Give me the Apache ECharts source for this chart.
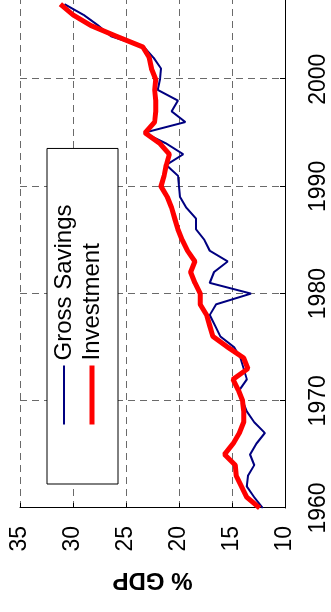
<!DOCTYPE html>
<html>
<head>
<meta charset="utf-8">
<script src="https://cdn.jsdelivr.net/npm/echarts@6/dist/echarts.min.js"></script>
<style>
  html, body { margin: 0; padding: 0; background: #fff; width: 331px; height: 612px; overflow: hidden; }
  #chart { position: absolute; left: 0; top: 0; width: 612px; height: 331px;
           transform-origin: 0 0; transform: translateY(612px) rotate(-90deg); }
</style>
</head>
<body>
<div id="chart"></div>
<script>
const years = [1960,1961,1962,1963,1964,1965,1966,1967,1968,1969,
               1970,1971,1972,1973,1974,1975,1976,1977,1978,1979,
               1980,1981,1982,1983,1984,1985,1986,1987,1988,1989,
               1990,1991,1992,1993,1994,1995,1996,1997,1998,1999,
               2000,2001,2002,2003,2004,2005,2006,2007];
const grossSavings = [12.1,12.9,13.6,13.5,12.9,13.3,12.7,11.9,12.9,13.6,
                      14.0,14.3,13.6,13.9,14.2,14.8,16.1,16.6,17.1,16.5,
                      13.2,17.1,16.7,15.4,17.1,17.6,18.4,18.4,19.3,19.9,
                      20.0,20.1,21.2,19.6,21.2,23.3,19.4,20.7,20.1,22.0,
                      21.8,21.7,22.4,23.3,26.4,27.6,29.0,30.8];
const investment = [12.4,13.6,14.1,14.6,14.7,15.7,14.9,14.3,13.9,13.9,
                    14.0,14.4,14.9,13.5,13.9,15.4,16.8,17.1,17.4,18.0,
                    18.0,18.5,18.9,18.5,19.2,19.7,20.1,20.4,20.7,21.1,
                    21.7,21.4,21.2,20.9,21.8,23.2,22.3,22.2,22.2,22.3,
                    22.2,22.6,22.8,23.4,25.9,28.3,30.0,31.2];
const seriesNames = ['Gross Savings', 'Investment'];
const seriesColors = ['#000080', '#ff0000'];
const seriesWidths = [2, 5];
const valueTicks = { min: 10, max: 35, interval: 5 };
const yearTicks = { min: 1960, max: 2010, interval: 10 };

const chart = echarts.init(document.getElementById('chart'), null, { renderer: 'canvas' });
const font = 'Liberation Sans, Arial, Helvetica, sans-serif';
const gridLine = { show: true, lineStyle: { color: '#6a6a6a', width: 1, type: [7, 5] } };

chart.setOption({
  backgroundColor: '#ffffff',
  animation: false,
  textStyle: { fontFamily: font },
  grid: { left: 104, right: -28, top: 20, bottom: 46, containLabel: false, outerBoundsMode: 'none' },
  legend: {
    left: 128, top: 47, orient: 'vertical',
    backgroundColor: '#ffffff', borderColor: '#000000', borderWidth: 1,
    padding: [5, 56, 14, 57],
    itemWidth: 59, itemHeight: 14, itemGap: 4,
    itemStyle: { opacity: 0 },
    textStyle: { fontSize: 24, color: '#000', fontFamily: font, lineHeight: 24 },
    data: seriesNames.map((n, i) => ({
      name: n,
      itemStyle: { opacity: 0 },
      lineStyle: { color: seriesColors[i], width: seriesWidths[i], opacity: 1 }
    }))
  },
  xAxis: {
    type: 'value', min: yearTicks.min, max: yearTicks.max, interval: yearTicks.interval,
    axisLine: { show: true, onZero: false, lineStyle: { color: '#000', width: 1 } },
    axisTick: { show: true, inside: true, length: 5, lineStyle: { color: '#000' } },
    axisLabel: { fontSize: 23, color: '#000', margin: 22, fontFamily: font,
                 formatter: (v) => String(v) },
    splitLine: gridLine
  },
  yAxis: {
    type: 'value', min: valueTicks.min, max: valueTicks.max, interval: valueTicks.interval,
    name: '% GDP', nameLocation: 'middle', nameRotate: 90, nameGap: 60,
    nameTextStyle: { fontSize: 24, fontWeight: 'bold', color: '#000', fontFamily: font },
    axisLine: { show: true, onZero: false, lineStyle: { color: '#000', width: 1 } },
    axisTick: { show: true, inside: true, length: 5, lineStyle: { color: '#000' } },
    axisLabel: { fontSize: 23, color: '#000', margin: 18, fontFamily: font },
    splitLine: gridLine
  },
  series: [
    {
      name: seriesNames[0], type: 'line', symbol: 'none',
      data: years.map((y, i) => [y, grossSavings[i]]),
      lineStyle: { color: seriesColors[0], width: seriesWidths[0] }, itemStyle: { color: seriesColors[0] }
    },
    {
      name: seriesNames[1], type: 'line', symbol: 'none',
      data: years.map((y, i) => [y, investment[i]]),
      lineStyle: { color: seriesColors[1], width: seriesWidths[1] }, itemStyle: { color: seriesColors[1] }
    }
  ]
});
</script>
</body>
</html>
